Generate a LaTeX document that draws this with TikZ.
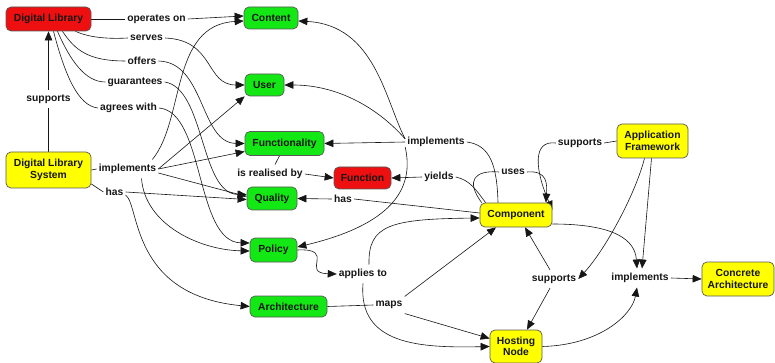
\documentclass[tikz,border=0pt]{standalone}
\usepackage{fontspec}
\setmainfont{Liberation Sans}
\usetikzlibrary{arrows.meta,backgrounds}
\definecolor{cgreen}{RGB}{20,232,20}
\definecolor{cred}{RGB}{238,16,16}
\definecolor{cyellow}{RGB}{255,255,0}
\definecolor{ink}{RGB}{22,22,22}

\begin{document}
\begin{tikzpicture}[x=1pt,y=-1pt,
  concept/.style={draw=black!65, line width=0.7pt, rounded corners=5pt, align=center,
    inner sep=0pt, font=\fontsize{10.3}{11.5}\selectfont\bfseries, text=ink},
  greenc/.style={concept, fill=cgreen},
  redc/.style={concept, fill=cred},
  yellowc/.style={concept, fill=cyellow},
  phrase/.style={inner xsep=2pt, inner ysep=4.5pt, font=\fontsize{10.3}{12}\selectfont\bfseries, text=ink},
  link/.style={draw=ink, line width=0.6pt},
  arr/.style={link, -{Triangle[length=9pt,width=7.5pt]}},
]
\useasboundingbox (0,0) rectangle (775,363);

% concepts
\node[redc, minimum width=85pt, minimum height=24pt] (dl) at (48.5,19) {Digital Library};
\node[greenc, minimum width=54pt, minimum height=22pt] (content) at (271,18) {Content};
\node[greenc, minimum width=39pt, minimum height=22pt] (user) at (264.5,85) {User};
\node[greenc, minimum width=79pt, minimum height=24pt] (functionality) at (284.5,143.5) {Functionality};
\node[redc, minimum width=57pt, minimum height=22pt] (function) at (362.5,178) {Function};
\node[greenc, minimum width=50pt, minimum height=23pt] (quality) at (272,198.5) {Quality};
\node[greenc, minimum width=47pt, minimum height=24pt] (policy) at (273.5,250) {Policy};
\node[greenc, minimum width=77pt, minimum height=21pt] (arch) at (288.5,306.5) {Architecture};
\node[yellowc, minimum width=85pt, minimum height=36pt] (dls) at (48.5,170) {Digital Library\\System};
\node[yellowc, minimum width=72pt, minimum height=24pt] (comp) at (516,215) {Component};
\node[yellowc, minimum width=71pt, minimum height=34pt] (af) at (652.5,141) {Application\\Framework};
\node[yellowc, minimum width=72pt, minimum height=34pt] (ca) at (738,279) {Concrete\\Architecture};
\node[yellowc, minimum width=52pt, minimum height=33pt] (hn) at (516,346.5) {Hosting\\Node};

% linking phrases
\node[phrase] (opon) at (156.5,19) {operates on};
\node[phrase] (serves) at (146.5,38) {serves};
\node[phrase] (offers) at (142,61) {offers};
\node[phrase] (guar) at (135,82) {guarantees};
\node[phrase] (agrees) at (128.5,108) {agrees with};
\node[phrase] (sup1) at (48.5,99) {supports};
\node[phrase] (impl1) at (127.5,169) {implements};
\node[phrase] (has1) at (114.5,192) {has};
\node[phrase] (realised) at (270,174) {is realised by};
\node[phrase] (impl2) at (436,142) {implements};
\node[phrase] (yields) at (439,177) {yields};
\node[phrase] (has2) at (343,199) {has};
\node[phrase] (uses) at (513,172) {uses};
\node[phrase] (sup2) at (580,143) {supports};
\node[phrase] (applies) at (363,274) {applies to};
\node[phrase] (maps) at (389,305) {maps};
\node[phrase] (sup3) at (554,279) {supports};
\node[phrase] (impl3) at (640,278) {implements};

\begin{pgfonlayer}{background}
\fill[white] (0,0) rectangle (775,363);
% Digital Library
\draw[link] (dl.east) -- (opon.west);
\draw[arr] (opon.east) -- ([yshift=2pt]content.west);
\draw[link] ([xshift=27pt]dl.south) .. controls (90,38) and (110,39) .. (serves.west);
\draw[arr] (serves.east) .. controls (215,40) and (205,85) .. (user.west);
\draw[link] ([xshift=14pt]dl.south) .. controls (75,50) and (88,61) .. (offers.west);
\draw[arr] (offers.east) .. controls (205,62) and (200,143) .. (functionality.west);
\draw[link] ([xshift=9pt]dl.south) .. controls (70,60) and (85,82) .. (guar.west);
\draw[arr] (guar.east) .. controls (205,88) and (200,194) .. ([yshift=4pt]quality.west);
\draw[link] ([xshift=5pt]dl.south) .. controls (65,75) and (78,106) .. (agrees.west);
\draw[arr] (agrees.east) .. controls (205,112) and (195,242) .. ([yshift=7pt]policy.west);

% Digital Library System
\draw[link] (dls.north) -- (sup1.south);
\draw[arr] (sup1.north) -- (dl.south);
\draw[link] (dls.east) -- (impl1.west);
\draw[arr] ([xshift=-6pt]impl1.north east) .. controls (185,120) and (170,25) .. ([yshift=-3pt]content.west);
\draw[arr] (impl1.east) -- (user.south west);
\draw[arr] (impl1.east) -- ([yshift=-8pt]functionality.west);
\draw[arr] ([yshift=-4pt]impl1.east) -- ([yshift=2pt]quality.west);
\draw[arr] ([xshift=14pt]impl1.south) .. controls (145,225) and (200,250) .. ([yshift=-1pt]policy.west);
\draw[link] ([yshift=-14pt]dls.east) -- (has1.west);
\draw[arr] (has1.east) -- ([yshift=-1pt]quality.west);
\draw[arr] ([yshift=-3pt]has1.east) .. controls (140,205) and (130,295) .. (arch.west);

% Functionality and Function
\draw[link] ([xshift=-5pt]functionality.south) -- ([xshift=5pt]realised.north);
\draw[arr] (realised.east) -- (function.west);

% Component
\draw[link] ([xshift=-18pt]comp.north) .. controls (497,165) and (490,145) .. (impl2.east);
\draw[arr] (impl2.west) -- (functionality.east);
\draw[arr] ([yshift=3pt]impl2.west) .. controls (385,100) and (375,25) .. ([yshift=-3pt]content.east);
\draw[arr] ([yshift=3pt]impl2.west) .. controls (380,110) and (340,85) .. (user.east);
\draw[arr] ([yshift=-5pt]impl2.west) .. controls (415,190) and (390,225) .. ([yshift=3pt]policy.east);
\draw[link] ([xshift=6pt]comp.north west) .. controls (476,190) and (470,180) .. (yields.east);
\draw[arr] (yields.west) -- (function.east);
\draw[link] ([xshift=2pt]comp.north west) .. controls (465,180) and (475,170) .. (uses.west);
\draw[arr] (uses.east) .. controls (548,170) and (547,185) .. ([xshift=30pt]comp.north);
\draw[link] ([yshift=2pt]comp.west) -- (has2.east);
\draw[arr] (has2.west) -- (quality.east);

% Application Framework
\draw[link] (af.west) -- (sup2.east);
\draw[arr] (sup2.west) .. controls (532,140) and (535,170) .. ([yshift=5pt]comp.east);
\draw[arr] ([xshift=-8pt]af.south) .. controls (635,195) and (605,250) .. (sup3.east);
\draw[arr] ([xshift=-1pt]af.south) -- ([xshift=2pt]impl3.north);
\draw[arr] ([yshift=-9pt]comp.east) .. controls (615,224) and (635,240) .. ([xshift=-3pt]impl3.north);
\draw[arr] (hn.east) .. controls (600,345) and (632,315) .. ([xshift=-3pt]impl3.south);
\draw[arr] (impl3.east) -- (ca.west);
\draw[arr] ([xshift=-4pt]sup3.north) -- ([xshift=9pt]comp.south);
\draw[arr] ([xshift=-4pt]sup3.south) -- ([xshift=11pt]hn.north);

% Policy and Architecture
\draw[arr] (policy.east) .. controls (337,248) and (300,273) .. (applies.west);
\draw[arr] ([xshift=6pt]applies.north) .. controls (368,225) and (390,219) .. ([yshift=-3pt]comp.west);
\draw[arr] (applies.south) .. controls (358,345) and (420,348) .. (hn.west);
\draw[link] (arch.east) -- (maps.west);
\draw[arr] (maps.north east) -- ([xshift=-20pt]comp.south);
\draw[arr] (maps.south east) -- ([yshift=8pt]hn.west);
\end{pgfonlayer}
\end{tikzpicture}
\end{document}
